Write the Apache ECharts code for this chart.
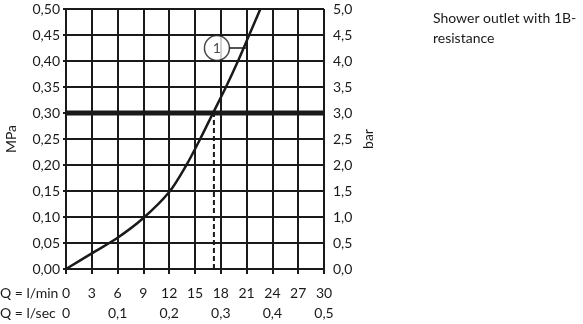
<!DOCTYPE html>
<html><head><meta charset="utf-8">
<script src="https://cdn.jsdelivr.net/npm/echarts@6/dist/echarts.min.js"></script>
<style>html,body{margin:0;padding:0;background:#fff}#c{width:583px;height:324px}</style>
</head><body><div id="c"></div>
<script>
// Flow rate Q (l/min) and pressure (MPa) of curve 1
const flowLmin = [0, 3, 6, 9, 12, 14, 15.6, 17.1, 18.6, 20.0, 21.3, 22.6];
const pressureMPa = [0, 0.03, 0.06, 0.098, 0.148, 0.20, 0.25, 0.30, 0.35, 0.40, 0.45, 0.50];
const xTicksLmin = [0, 3, 6, 9, 12, 15, 18, 21, 24, 27, 30];
const xTicksLsec = ['0', '0,1', '0,2', '0,3', '0,4', '0,5'];
const refPressure = 0.30;
const operatingFlow = 17.2;
const labelPoint = [17.55, 0.425];
const leaderLine = [[18.95, 0.425], [21.0, 0.425]];
const curveName = '1';
const titleLines = ['Shower outlet with 1B-', 'resistance'];

const FONT = 'Lato';
const C = '#1a1a1a';
const chart = echarts.init(document.getElementById('c'));
const fmtComma = (d) => (v) => v.toFixed(d).replace('.', ',');
chart.setOption({
  animation: false,
  textStyle: {fontFamily: FONT},
  grid: {left: 66, right: 259, top: 9, bottom: 55},
  xAxis: [{
    type: 'value', min: 0, max: 30, interval: 3,
    axisLine: {lineStyle: {color: C, width: 2}},
    axisTick: {show: true, length: 5, lineStyle: {color: C, width: 2}},
    axisLabel: {color: C, fontSize: 14, margin: 17, fontFamily: FONT},
    splitLine: {show: true, lineStyle: {color: C, width: 2}}
  }, {
    type: 'value', min: 0, max: 0.5, interval: 0.1, position: 'bottom', offset: 20,
    axisLine: {show: false}, axisTick: {show: false}, splitLine: {show: false},
    axisLabel: {color: C, fontSize: 14, margin: 17, fontFamily: FONT,
      formatter: (v) => xTicksLsec[Math.round(v * 10)]}
  }],
  yAxis: [{
    type: 'value', min: 0, max: 0.5, interval: 0.05, position: 'left',
    name: 'MPa', nameLocation: 'middle', nameGap: 48, nameRotate: 90,
    nameTextStyle: {color: C, fontSize: 14, fontFamily: FONT},
    axisLine: {show: true, lineStyle: {color: C, width: 2}},
    axisTick: {show: true, length: 3, lineStyle: {color: C, width: 2}},
    axisLabel: {color: C, fontSize: 14, margin: 6, formatter: fmtComma(2), fontFamily: FONT},
    splitLine: {show: true, lineStyle: {color: C, width: 2}}
  }, {
    type: 'value', min: 0, max: 5, interval: 0.5, position: 'right',
    name: 'bar', nameLocation: 'middle', nameGap: 37, nameRotate: 90,
    nameTextStyle: {color: C, fontSize: 14, fontFamily: FONT},
    axisLine: {show: true, lineStyle: {color: C, width: 2}},
    axisTick: {show: true, length: 3, lineStyle: {color: C, width: 2}},
    axisLabel: {color: C, fontSize: 14, margin: 9, formatter: fmtComma(1), fontFamily: FONT},
    splitLine: {show: false}
  }],
  graphic: [
    {type: 'text', left: 0, top: 286, style: {text: 'Q = l/min', font: '14px ' + FONT, fill: C}},
    {type: 'text', left: 0, top: 306, style: {text: 'Q = l/sec', font: '14px ' + FONT, fill: C}},
    {type: 'text', left: 433, top: 8, style: {text: titleLines.join('\n'), font: '14px ' + FONT, fill: C, lineHeight: 20}}
  ],
  series: [{
    type: 'line', data: [[0, refPressure], [30, refPressure]], symbol: 'none',
    lineStyle: {color: C, width: 5}, z: 3
  }, {
    type: 'line', data: [[operatingFlow, 0], [operatingFlow, refPressure]], symbol: 'none',
    lineStyle: {color: C, width: 2, type: [5, 3]}, z: 3
  }, {
    type: 'line', data: flowLmin.map((x, i) => [x, pressureMPa[i]]), symbol: 'none', smooth: 0.3,
    lineStyle: {color: C, width: 2.5}, z: 4
  }, {
    type: 'line', data: leaderLine, symbol: 'none', lineStyle: {color: C, width: 1.5}, z: 4
  }, {
    type: 'scatter', data: [labelPoint], symbol: 'circle', symbolSize: 25,
    itemStyle: {color: '#fff', borderColor: C, borderWidth: 1.5}, z: 5,
    label: {show: true, position: 'inside', formatter: curveName, color: C, fontSize: 14, fontFamily: FONT}
  }]
});
</script></body></html>
